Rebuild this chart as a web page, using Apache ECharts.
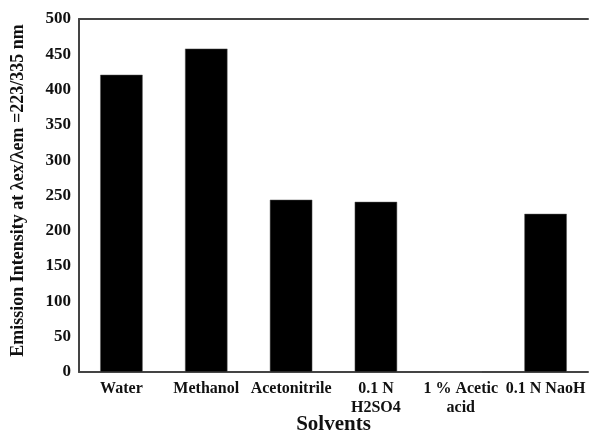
<!DOCTYPE html>
<html>
<head>
<meta charset="utf-8">
<script src="https://cdn.jsdelivr.net/npm/echarts@6/dist/echarts.min.js"></script>
<style>html,body{margin:0;padding:0;background:#fff;}#c{width:592px;height:433px;}</style>
</head>
<body>
<div id="c"></div>
<script>
var categories = ['Water', 'Methanol', 'Acetonitrile', '0.1 N\nH2SO4', '1 % Acetic\nacid', '0.1 N NaoH'];
var values = [421, 458, 244, 241, 0, 224];
var yTicks = { min: 0, max: 500, interval: 50 };

var font = 'Liberation Serif, Times New Roman, serif';
var chart = echarts.init(document.getElementById('c'), null, { renderer: 'canvas' });
chart.setOption({
  animation: false,
  backgroundColor: '#fff',
  grid: { left: 79, right: 4, top: 19, bottom: 61, outerBoundsMode: 'none', containLabel: false },
  xAxis: [{
    type: 'category',
    data: categories,
    position: 'bottom',
    axisLine: { show: true, lineStyle: { color: '#444', width: 2 } },
    axisTick: { show: false },
    axisLabel: { color: '#111', fontFamily: font, fontWeight: 'bold', fontSize: 16, margin: 7, lineHeight: 19, interval: 0, hideOverlap: false },
    name: 'Solvents',
    nameLocation: 'middle',
    nameGap: 42,
    nameMoveOverlap: false,
    nameTextStyle: { color: '#111', fontFamily: font, fontWeight: 'bold', fontSize: 21 }
  }, {
    type: 'category',
    data: categories,
    position: 'top',
    axisLine: { show: true, lineStyle: { color: '#444', width: 2 } },
    axisTick: { show: false },
    axisLabel: { show: false }
  }],
  yAxis: {
    type: 'value',
    min: yTicks.min,
    max: yTicks.max,
    interval: yTicks.interval,
    axisLine: { show: true, lineStyle: { color: '#444', width: 2 } },
    axisTick: { show: false },
    splitLine: { show: false },
    axisLabel: { color: '#111', fontFamily: font, fontWeight: 'bold', fontSize: 17, margin: 8 },
    name: 'Emission Intensity at λex/λem =223/335 nm',
    nameLocation: 'middle',
    nameRotate: 90,
    nameGap: 52,
    nameMoveOverlap: false,
    nameTextStyle: { color: '#111', fontFamily: font, fontWeight: 'bold', fontSize: 18, padding: [0, 0, 0, 10] }
  },
  series: [{
    type: 'bar',
    data: values,
    barWidth: '50%',
    itemStyle: { color: '#000', borderColor: '#555', borderWidth: 0.5 }
  }]
});
</script>
</body>
</html>
